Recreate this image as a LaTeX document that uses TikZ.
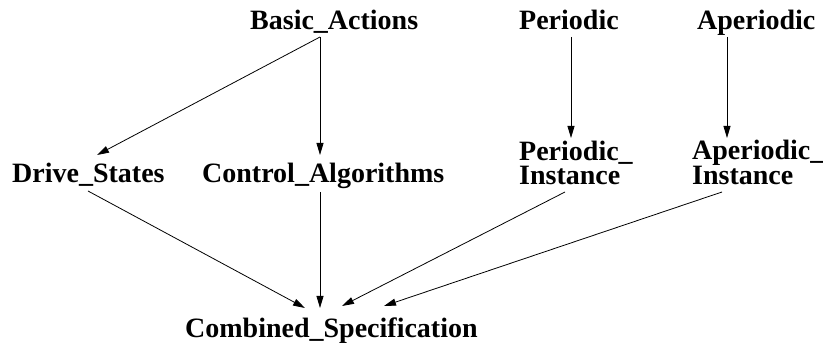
\documentclass[tikz,border=0pt]{standalone}
\usepackage{fontspec}
\setmainfont{Liberation Serif}
\usetikzlibrary{arrows.meta}
\begin{document}
\begin{tikzpicture}[x=1pt,y=-1pt,
  lbl/.style={inner sep=0pt,anchor=base west,font=\fontsize{28}{24}\selectfont\bfseries,align=left},
  arr/.style={line width=0.8pt,-{Triangle[length=12pt,width=7pt]}}]
\useasboundingbox (0,0) rectangle (823,347);
\node[lbl] (ba) at (250,30) {Basic\_Actions};
\node[lbl] (pe) at (519,30) {Periodic};
\node[lbl] (ap) at (697,30) {Aperiodic};
\node[lbl] (ds) at (12,183) {Drive\_States};
\node[lbl] (ca) at (202,183) {Control\_Algorithms};
\node[lbl] (pi) at (519,185) {Periodic\_\\Instance};
\node[lbl] (ai) at (692,185) {Aperiodic\_\\Instance};
\node[lbl] (cs) at (185,338) {Combined\_Specification};
\draw[arr] ([shift={(70,7)}]ba.base west) -- ([shift={(85,-28)}]ds.base west);
\draw[arr] ([shift={(70,7)}]ba.base west) -- ([shift={(118,-28)}]ca.base west);
\draw[arr] ([shift={(52,7)}]pe.base west) -- ([shift={(52,-47)}]pi.base west);
\draw[arr] ([shift={(30,7)}]ap.base west) -- ([shift={(35,-47)}]ai.base west);
\draw[arr] ([shift={(76,8)}]ds.base west) -- ([shift={(120,-30)}]cs.base west);
\draw[arr] ([shift={(118,9)}]ca.base west) -- ([shift={(135,-30)}]cs.base west);
\draw[arr] ([shift={(46,7)}]pi.base west) -- ([shift={(157,-32)}]cs.base west);
\draw[arr] ([shift={(30,7)}]ai.base west) -- ([shift={(199,-32)}]cs.base west);
\end{tikzpicture}
\end{document}
